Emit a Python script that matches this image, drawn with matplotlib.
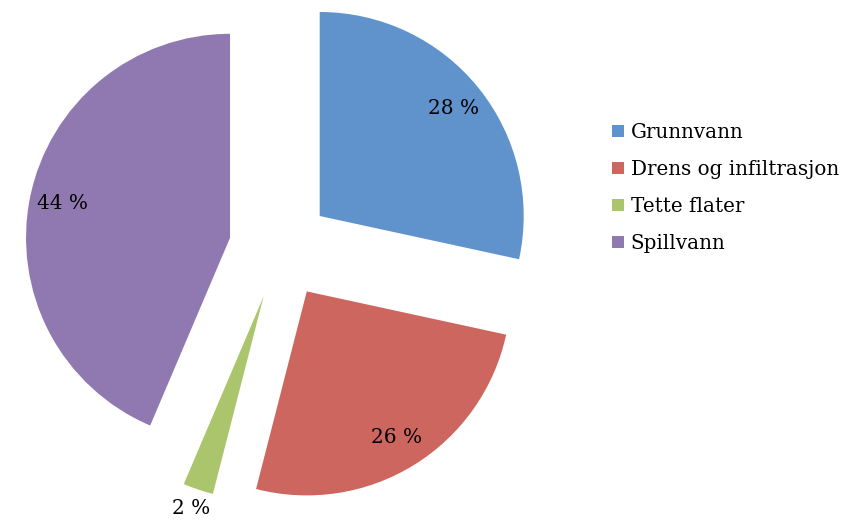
import numpy as np
import matplotlib
matplotlib.use('Agg')
from matplotlib import pyplot as plt

# data (labels round these to 28, 26, 2, 44 %)
labels = ['Grunnvann', 'Drens og infiltrasjon', 'Tette flater', 'Spillvann']
shares = [28.4, 25.6, 2.4, 43.6]
colors = ['#6093CB', '#CD665F', '#ABC56C', '#9079B1']

plt.rcParams['font.family'] = ['DejaVu Serif']

fig = plt.figure(figsize=(8.42, 5.22), dpi=100)
ax = fig.add_axes([0, 0, 1, 1])

wedges, texts, autotexts = ax.pie(shares, explode=[0.25] * 4, startangle=90, counterclock=False,
                                  colors=colors, autopct=lambda p: '%.0f %%' % p, pctdistance=0.84,
                                  radius=1, wedgeprops={'linewidth': 0})
for t in autotexts:
    t.set_fontsize(14.5)
    t.set_color('black')

# small slice label goes outside
w = wedges[2]
mid = np.deg2rad((w.theta1 + w.theta2) / 2)
cx, cy = w.center
autotexts[2].set_position((cx + 1.1 * np.cos(mid), cy + 1.1 * np.sin(mid)))

# pixel layout: pie centre at (280, 248), radius 204 px
r_px = 204.0
ax.set_aspect('auto')
ax.set_xlim(-280 / r_px, (842 - 280) / r_px)
ax.set_ylim(-(522 - 248) / r_px, 248 / r_px)
ax.axis('off')

fig.legend(wedges, labels, loc='center left', bbox_to_anchor=(594 / 842, 1 - 188 / 522),
           frameon=False, fontsize=14.3, handlelength=0.6, handleheight=0.6,
           handletextpad=0.35, labelspacing=0.9)

fig.savefig('out.png', dpi=100)
